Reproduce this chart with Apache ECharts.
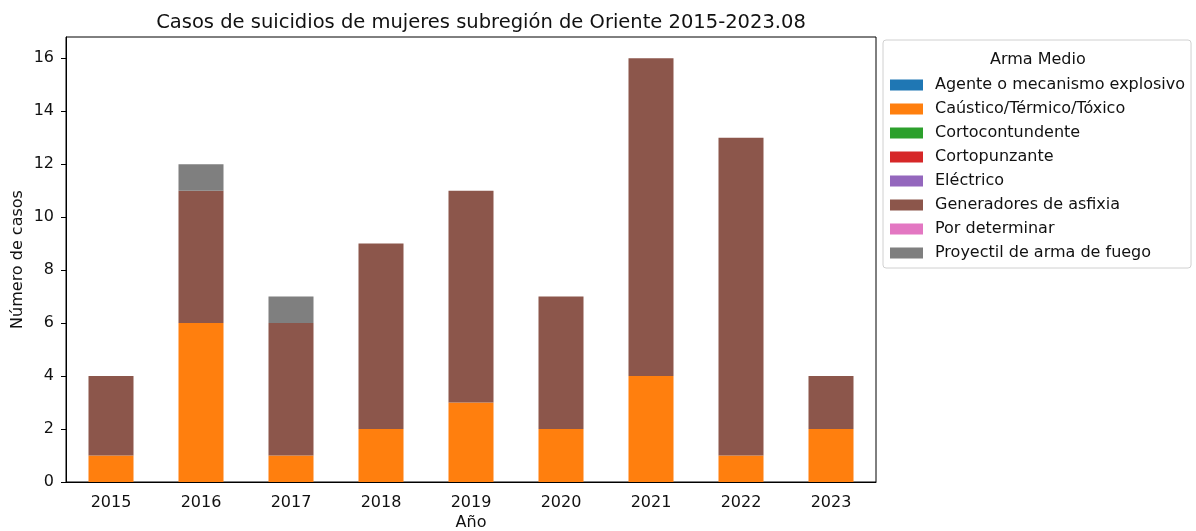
<!DOCTYPE html>
<html>
<head>
<meta charset="utf-8">
<script src="https://cdn.jsdelivr.net/npm/echarts@6/dist/echarts.min.js"></script>
<style>
	html, body { margin: 0; padding: 0; background: #fff; }
	#grafico { width: 1196px; height: 531px; }
</style>
</head>
<body>
<div id="grafico"></div>
<script>
const anos = ['2015', '2016', '2017', '2018', '2019', '2020', '2021', '2022', '2023']

const medios = [
	'Agente o mecanismo explosivo',
	'Caústico/Térmico/Tóxico',
	'Cortocontundente',
	'Cortopunzante',
	'Eléctrico',
	'Generadores de asfixia',
	'Por determinar',
	'Proyectil de arma de fuego'
]

const explosivo = [0, 0, 0, 0, 0, 0, 0, 0, 0]
const caustico = [1, 6, 1, 2, 3, 2, 4, 1, 2]
const cortocontundente = [0, 0, 0, 0, 0, 0, 0, 0, 0]
const cortopunzante = [0, 0, 0, 0, 0, 0, 0, 0, 0]
const electrico = [0, 0, 0, 0, 0, 0, 0, 0, 0]
const asfixia = [3, 5, 5, 7, 8, 5, 12, 12, 2]
const porDeterminar = [0, 0, 0, 0, 0, 0, 0, 0, 0]
const proyectil = [0, 1, 1, 0, 0, 0, 0, 0, 0]

const yTicks = [0, 2, 4, 6, 8, 10, 12, 14, 16]

const valores = [explosivo, caustico, cortocontundente, cortopunzante, electrico, asfixia, porDeterminar, proyectil]
const colores = ['#1f77b4', '#ff7f0e', '#2ca02c', '#d62728', '#9467bd', '#8c564b', '#e377c2', '#7f7f7f']

const fonte = 'DejaVu Sans'
const corTexto = '#111'

const myChart = echarts.init(document.getElementById('grafico'))

myChart.setOption({
	animation: false,
	textStyle: { fontFamily: fonte },
	color: colores,
	title: {
		text: 'Casos de suicidios de mujeres subregión de Oriente 2015-2023.08',
		left: 476,
		textAlign: 'center',
		top: 8,
		textStyle: { fontFamily: fonte, fontSize: 19.5, fontWeight: 'normal', color: corTexto }
	},
	grid: {
		left: 66,
		right: 320,
		top: 37,
		bottom: 49,
		outerBoundsMode: 'none',
		containLabel: false,
		show: true,
		borderColor: '#000',
		borderWidth: 1
	},
	legend: {
		orient: 'vertical',
		left: 883,
		top: 40,
		width: 309,
		padding: [37, 6, 7, 7],
		borderColor: '#d0d0d0',
		borderWidth: 1,
		borderRadius: 3,
		icon: 'rect',
		itemWidth: 33,
		itemHeight: 11,
		itemGap: 8,
		data: medios,
		textStyle: { fontFamily: fonte, fontSize: 16, color: corTexto, padding: [0, 0, 0, 7] }
	},
	graphic: [{
		type: 'text',
		left: 990,
		top: 52,
		style: { text: 'Arma Medio', font: '16px "DejaVu Sans"', fill: corTexto }
	}],
	xAxis: {
		type: 'category',
		data: anos,
		name: 'Año',
		nameLocation: 'middle',
		nameGap: 33,
		nameMoveOverlap: false,
		nameTextStyle: { fontFamily: fonte, fontSize: 16, color: corTexto },
		axisLine: { lineStyle: { color: '#000' } },
		axisTick: { alignWithLabel: true, length: 5, lineStyle: { color: '#000' } },
		axisLabel: { fontFamily: fonte, fontSize: 16, color: corTexto, margin: 13 }
	},
	yAxis: {
		type: 'value',
		min: 0,
		max: 16.8,
		interval: 2,
		name: 'Número de casos',
		nameLocation: 'middle',
		nameGap: 40,
		nameMoveOverlap: false,
		nameTextStyle: { fontFamily: fonte, fontSize: 16, color: corTexto },
		axisLine: { show: true, lineStyle: { color: '#000' } },
		axisTick: { show: true, length: 5, customValues: yTicks, lineStyle: { color: '#000' } },
		splitLine: { show: false },
		axisLabel: {
			fontFamily: fonte, fontSize: 16, color: corTexto, margin: 12,
			customValues: yTicks
		}
	},
	series: medios.map((m, i) => ({
		name: m,
		type: 'bar',
		stack: 'total',
		barWidth: '50%',
		data: valores[i],
		itemStyle: { color: colores[i] }
	}))
})
</script>
</body>
</html>
